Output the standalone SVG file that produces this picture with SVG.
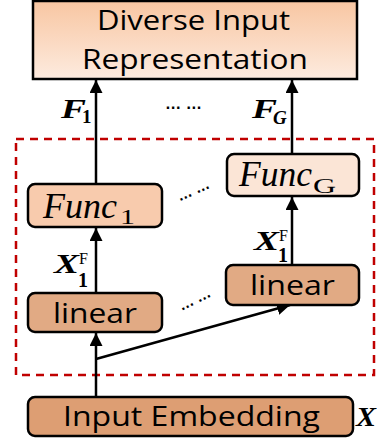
<svg xmlns="http://www.w3.org/2000/svg" width="377" height="440" viewBox="0 0 377 440">
<style>
.box{stroke:#000;stroke-width:2.5}
.sans{font-family:"Open Sans","Noto Sans",sans-serif;font-size:28px;fill:#000}
.mi{font-family:"Liberation Serif",serif;font-style:italic;fill:#000}
.bi{font-family:"Liberation Serif",serif;font-style:italic;font-weight:bold;fill:#000}
.b{font-family:"Liberation Serif",serif;font-weight:bold;fill:#000}
.r{font-family:"Liberation Serif",serif;fill:#000}
.dots{font-family:"Liberation Sans",sans-serif;font-size:16px;font-weight:bold;fill:#000}
.conn{stroke:#000;stroke-width:2.5;fill:none}
</style>
<defs>
<linearGradient id="g" x1="0" y1="0" x2="0" y2="1">
<stop offset="0" stop-color="#f8c6a2"/>
<stop offset="1" stop-color="#fdebdf"/>
</linearGradient>
<marker id="ah" markerUnits="userSpaceOnUse" markerWidth="14" markerHeight="14" refX="13" refY="6.5" orient="auto">
<path d="M0,0 L13,6.5 L0,13 z" fill="#000"/>
</marker>
</defs>
<rect x="16" y="139" width="358" height="236" fill="none" stroke="#c00000" stroke-width="2.5" stroke-dasharray="8 6"/>
<g id="connectors">
<line class="conn" x1="96" y1="397" x2="96" y2="333" marker-end="url(#ah)"/>
<line class="conn" x1="96" y1="359" x2="290" y2="305" marker-end="url(#ah)"/>
<line class="conn" x1="96" y1="293" x2="96" y2="228" marker-end="url(#ah)"/>
<line class="conn" x1="292" y1="265" x2="292" y2="197" marker-end="url(#ah)"/>
<line class="conn" x1="96" y1="184" x2="96" y2="80" marker-end="url(#ah)"/>
<line class="conn" x1="292" y1="154" x2="292" y2="80" marker-end="url(#ah)"/>
</g>
<g id="top">
<rect class="box" x="33" y="1" width="324" height="78" fill="url(#g)"/>
<text class="sans" x="97" y="30" textLength="193" lengthAdjust="spacingAndGlyphs">Diverse Input</text>
<text class="sans" x="82" y="69" textLength="226" lengthAdjust="spacingAndGlyphs">Representation</text>
</g>
<g id="func1">
<rect class="box" x="28" y="184" width="134" height="43" rx="7" fill="#f8cbad"/>
<text class="mi" x="43" y="218" font-size="35" textLength="74" lengthAdjust="spacingAndGlyphs">Func</text>
<text class="r" x="120" y="224" font-size="22" textLength="15" lengthAdjust="spacingAndGlyphs">1</text>
</g>
<g id="funcG">
<rect class="box" x="227" y="154" width="132" height="42" rx="7" fill="#fbe5d6"/>
<text class="mi" x="239" y="186" font-size="35" textLength="73" lengthAdjust="spacingAndGlyphs">Func</text>
<text class="r" x="313" y="193" font-size="21" textLength="23" lengthAdjust="spacingAndGlyphs">G</text>
</g>
<g id="linear1">
<rect class="box" x="28" y="293" width="134" height="39" rx="7" fill="#e1aa84"/>
<text class="sans" x="53" y="323" textLength="84" lengthAdjust="spacingAndGlyphs">linear</text>
</g>
<g id="linearG">
<rect class="box" x="226" y="265" width="133" height="40" rx="7" fill="#e1aa84"/>
<text class="sans" x="250" y="295" textLength="85" lengthAdjust="spacingAndGlyphs">linear</text>
</g>
<g id="input">
<rect class="box" x="28" y="397" width="325" height="39" rx="7" fill="#dd9e73"/>
<text class="sans" x="63" y="426" textLength="257" lengthAdjust="spacingAndGlyphs">Input Embedding</text>
<text class="bi" x="356" y="426" font-size="28" textLength="20" lengthAdjust="spacingAndGlyphs">X</text>
</g>
<g id="labels">
<text class="bi" x="61" y="118" font-size="28" textLength="25" lengthAdjust="spacingAndGlyphs">F</text>
<text class="b" x="82" y="123" font-size="19">1</text>
<text class="bi" x="252" y="118" font-size="28" textLength="25" lengthAdjust="spacingAndGlyphs">F</text>
<text class="bi" x="273" y="124" font-size="19">G</text>
<text class="bi" x="54" y="273" font-size="27" textLength="25" lengthAdjust="spacingAndGlyphs">X</text>
<text class="r" x="79" y="264" font-size="16">F</text>
<text class="b" x="78" y="287" font-size="20">1</text>
<text class="bi" x="254" y="250" font-size="27" textLength="25" lengthAdjust="spacingAndGlyphs">X</text>
<text class="r" x="279" y="241" font-size="16">F</text>
<text class="b" x="278" y="262" font-size="20">1</text>
<text class="dots" x="165" y="109" textLength="37" lengthAdjust="spacingAndGlyphs">… …</text>
<text class="dots" x="176" y="195" textLength="34" lengthAdjust="spacingAndGlyphs" transform="rotate(-24 193 190)">… …</text>
<text class="dots" x="178" y="304" textLength="34" lengthAdjust="spacingAndGlyphs" transform="rotate(-26 195 300)">… …</text>
</g>
</svg>
